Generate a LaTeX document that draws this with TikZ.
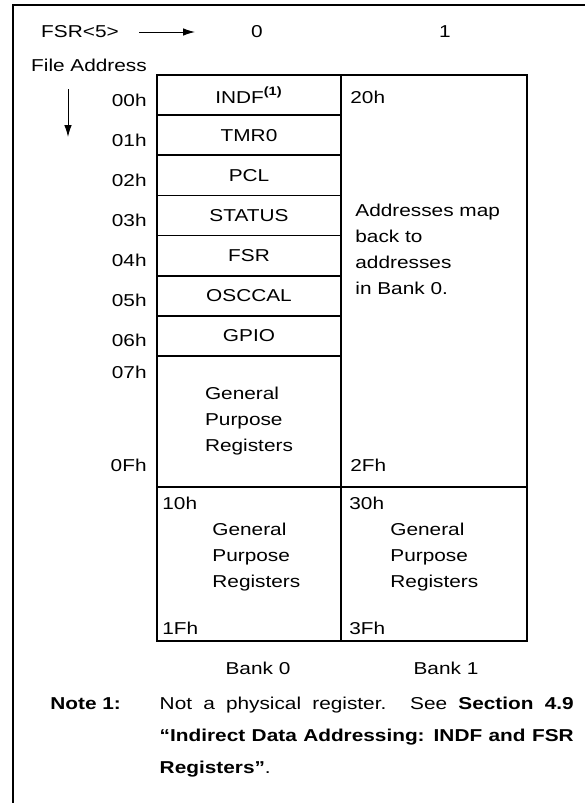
\documentclass[tikz,border=0pt]{standalone}
\usepackage{fontspec}
\setmainfont{Liberation Sans}[FakeStretch=1.21]
\usetikzlibrary{positioning, arrows.meta}

\begin{document}
\begin{tikzpicture}[
      x=0.5pt, y=-0.5pt,
      font=\fontsize{8.6}{13}\selectfont,
      reg/.style={rectangle, draw, line width=0.9pt, align=center,
        minimum width=92pt, minimum height=20.07pt, inner sep=0pt, outer sep=0pt},
      bank/.style={rectangle, draw, line width=0.9pt,
        minimum width=93pt, inner sep=0pt, outer sep=0pt},
      addr/.style={anchor=east, inner sep=0pt},
      tag/.style={anchor=west, inner sep=0pt},
      txt/.style={align=left, inner sep=0pt},
      notebody/.style={inner sep=0pt, text width=207pt, align=justify,
        font=\fontsize{8.6}{16}\selectfont},
      arrow/.style={-{Latex[length=6pt, width=3.8pt]}, line width=0.5pt}
    ]
    \useasboundingbox (0,0) rectangle (585,803);
    \draw[line width=1pt] (13,803) -- (13,5) -- (585,5);

    \node[inner sep=0pt] (fsr) at (80,32) {FSR<5>};
    \coordinate (fsrtip) at (195,32);
    \node[inner sep=0pt] (sel0) at (257,32) {0};
    \node[inner sep=0pt] (sel1) at (445,32) {1};
    \node[inner sep=0pt] (fileaddr) at (89,65) {File Address};
    \coordinate (downtop) at (68,89);
    \coordinate (downtip) at (68,137);

    \draw[arrow] ([xshift=10pt]fsr.east) -- (fsrtip);
    \draw[arrow] (downtop) -- (downtip);

    \node[reg, anchor=north west] (indf) at (157,75) {INDF\textsuperscript{\textbf{(1)}}};
    \node[reg, below=0pt of indf] (tmr0) {TMR0};
    \node[reg, below=0pt of tmr0] (pcl) {PCL};
    \node[reg, below=0pt of pcl] (status) {STATUS};
    \node[reg, below=0pt of status] (fsrreg) {FSR};
    \node[reg, below=0pt of fsrreg] (osccal) {OSCCAL};
    \node[reg, below=0pt of osccal] (gpio) {GPIO};
    \node[reg, below=0pt of gpio, minimum height=65.5pt, align=left] (gpr0) {General\\Purpose\\Registers};
    \node[bank, minimum height=206pt, anchor=north west] (map1) at (indf.north east) {};
    \node[reg, minimum height=77pt, anchor=north west] (low0) at (gpr0.south west) {};
    \node[bank, minimum height=77pt, anchor=north west] (low1) at (low0.north east) {};

    \foreach \lab [count=\i from 0] in {00h,01h,02h,03h,04h,05h,06h}
      \node[addr] (a\lab) at (147, 100+40.14*\i) {\lab};
    \node[addr] (a07h) at (147,372) {07h};
    \node[addr] (a0Fh) at (147,465) {0Fh};

    \node[tag] (t20h) at (350,97) {20h};
    \node[tag] (t2Fh) at (350,465) {2Fh};
    \node[tag] (t10h) at (162,503) {10h};
    \node[tag] (t1Fh) at (162,628) {1Fh};
    \node[tag] (t30h) at (349,503) {30h};
    \node[tag] (t3Fh) at (349,628) {3Fh};

    \node[txt, anchor=north west] (mapnote) at (355,204) {Addresses map\\back to\\addresses\\in Bank 0.};
    \node[txt, anchor=west] (gpr0b) at (212,557) {General\\Purpose\\Registers};
    \node[txt, anchor=west] (gpr1b) at (390,557) {General\\Purpose\\Registers};

    \node (bank0) at (258,668) {Bank 0};
    \node (bank1) at (446,668) {Bank 1};

    \node[inner sep=0pt, anchor=base west, font=\fontsize{8.6}{16}\selectfont\bfseries] (notekey) at (50,709) {Note 1:};
    \node[notebody, base right=19pt of notekey] (notetext) {Not a physical register. See \textbf{Section 4.9}\linebreak
      \textbf{“Indirect Data Addressing: INDF and FSR}\linebreak \textbf{Registers”}.};
  \end{tikzpicture}
\end{document}
